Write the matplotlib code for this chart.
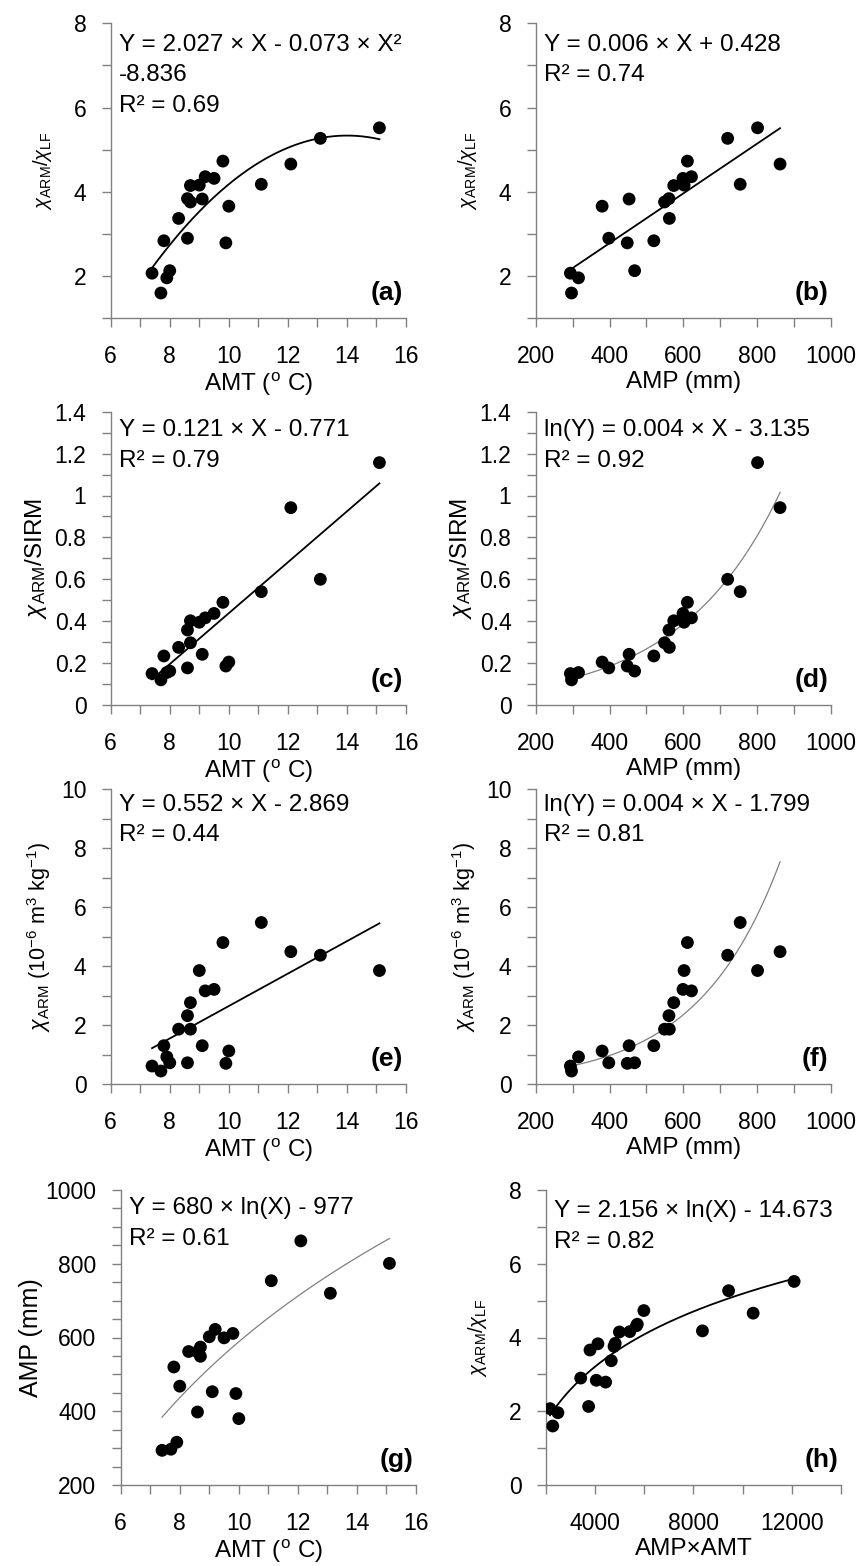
"""Eight-panel scatter of magnetic ratios against climate (AMT, AMP)."""

import matplotlib
matplotlib.use("Agg")
import matplotlib.pyplot as plt
import numpy as np
from matplotlib.ticker import MultipleLocator, FuncFormatter

plt.rcParams["font.family"] = ["Liberation Sans", "DejaVu Sans"]
plt.rcParams["mathtext.fontset"] = "custom"
plt.rcParams["mathtext.rm"] = "Liberation Sans"
plt.rcParams["mathtext.it"] = "Liberation Sans:italic"
plt.rcParams["mathtext.bf"] = "Liberation Sans:bold"

# one entry per site
amt = [7.4, 7.7, 7.8, 7.9, 8.0, 8.3, 8.6, 8.6, 8.7, 8.7, 9.0,
       9.1, 9.2, 9.5, 9.8, 9.9, 10.0, 11.1, 12.1, 13.1, 15.1]
amp = [294, 297, 520, 316, 468, 562, 398, 561, 549, 574, 602,
       453, 622, 599, 611, 448, 380, 754, 862, 720, 801]
arm_lf = [2.07, 1.60, 2.84, 1.96, 2.13, 3.37, 2.90, 3.84, 3.76, 4.15, 4.16,
          3.83, 4.36, 4.32, 4.73, 2.79, 3.66, 4.18, 4.66, 5.27, 5.52]
arm_sirm = [0.150, 0.120, 0.234, 0.155, 0.162, 0.275, 0.177, 0.358, 0.297, 0.402, 0.395,
            0.242, 0.416, 0.437, 0.490, 0.186, 0.205, 0.541, 0.942, 0.600, 1.157]
chi_arm = [0.61, 0.44, 1.30, 0.92, 0.72, 1.86, 0.72, 2.32, 1.86, 2.76, 3.85,
           1.30, 3.16, 3.21, 4.80, 0.70, 1.12, 5.48, 4.49, 4.37, 3.85]

amt = np.array(amt)
amp = np.array(amp)
prod = amt * amp

LAB_LF = r"$\chi_{\mathrm{ARM}}/\chi_{\mathrm{LF}}$"
LAB_SIRM = r"$\chi_{\mathrm{ARM}}$/SIRM"
LAB_ARM = r"$\chi_{\mathrm{ARM}}$ (10$^{-6}$ m$^{3}$ kg$^{-1}$)"
LAB_AMT = r"AMT ($^{\mathrm{o}}$ C)"
LAB_AMP = "AMP (mm)"

GREY = "#808080"
W = 861
H = 1566
EQ_SIZE = 17.5
XLAB_SIZE = 17.5


def fmt(v, _):
    return f"{v:g}"


def setup(ax, xlim, xmaj, xmin, ylim, ymaj, ymin):
    ax.set_xlim(*xlim)
    ax.set_ylim(*ylim)
    ax.xaxis.set_major_locator(MultipleLocator(xmaj))
    ax.xaxis.set_minor_locator(MultipleLocator(xmin))
    ax.yaxis.set_major_locator(MultipleLocator(ymaj))
    ax.yaxis.set_minor_locator(MultipleLocator(ymin))
    ax.xaxis.set_major_formatter(FuncFormatter(fmt))
    ax.yaxis.set_major_formatter(FuncFormatter(fmt))
    for s in ("top", "right"):
        ax.spines[s].set_visible(False)
    for s in ("left", "bottom"):
        ax.spines[s].set_color(GREY)
        ax.spines[s].set_linewidth(1.0)
    ax.tick_params(which="both", direction="out", length=6.5, width=1.0,
                   color=GREY, labelsize=16.5, labelcolor="black")
    ax.tick_params(axis="x", which="major", pad=13)
    ax.tick_params(axis="y", which="major", pad=11)


def panel(left, top, right, bottom):
    return fig.add_axes([left / W, 1 - bottom / H, (right - left) / W, (bottom - top) / H])


def fit_line(ax, x, y, kind, thin=False):
    xs = np.linspace(x.min(), x.max(), 200)
    if kind == "lin":
        c = np.polyfit(x, y, 1)
        ys = np.polyval(c, xs)
    elif kind == "quad":
        c = np.polyfit(x, y, 2)
        ys = np.polyval(c, xs)
    elif kind == "exp":
        c = np.polyfit(x, np.log(y), 1)
        ys = np.exp(np.polyval(c, xs))
    else:  # log
        c = np.polyfit(np.log(x), y, 1)
        ys = np.polyval(c, np.log(xs))
    if thin:
        ax.plot(xs, ys, color="#808080", lw=0.9, zorder=2)
    else:
        ax.plot(xs, ys, color="black", lw=1.3, zorder=2)


def dots(ax, x, y):
    ax.scatter(x, y, s=85, color="black", edgecolor="none", zorder=3)


def note(ax, lines, x0=0.028, y0=0.965, step=0.104):
    for i, t in enumerate(lines):
        ax.text(x0, y0 - i * step, t, transform=ax.transAxes, fontsize=EQ_SIZE,
                ha="left", va="top")


def tag(ax, t):
    ax.text(0.99, 0.045, t, transform=ax.transAxes, fontsize=19,
            fontweight="bold", ha="right", va="bottom")


fig = plt.figure(figsize=(W / 100, H / 100), dpi=100)

# (a)
ax = panel(110.7, 23.3, 406, 318.3)
setup(ax, (6, 16), 2, 1, (1, 8), 2, 1)
fit_line(ax, amt, np.array(arm_lf), "quad")
dots(ax, amt, arm_lf)
note(ax, ["Y = 2.027 \u00d7 X - 0.073 \u00d7 X\u00b2", "-8.836", "R\u00b2 = 0.69"])
tag(ax, "(a)")
ax.set_xlabel(LAB_AMT, fontsize=XLAB_SIZE, labelpad=2)
ax.set_ylabel(LAB_LF, fontsize=14.5, labelpad=14)

# (b)
ax = panel(535.7, 23.3, 831, 318.3)
setup(ax, (200, 1000), 200, 100, (1, 8), 2, 1)
fit_line(ax, amp, np.array(arm_lf), "lin")
dots(ax, amp, arm_lf)
note(ax, ["Y = 0.006 \u00d7 X + 0.428", "R\u00b2 = 0.74"])
tag(ax, "(b)")
ax.set_xlabel(LAB_AMP, fontsize=XLAB_SIZE, labelpad=2)
ax.set_ylabel(LAB_LF, fontsize=14.5, labelpad=14)

# (c)
ax = panel(110.7, 411.7, 406, 705)
setup(ax, (6, 16), 2, 1, (0, 1.4), 0.2, 0.1)
fit_line(ax, amt, np.array(arm_sirm), "lin")
dots(ax, amt, arm_sirm)
note(ax, ["Y = 0.121 \u00d7 X - 0.771", "R\u00b2 = 0.79"], y0=0.975)
tag(ax, "(c)")
ax.set_xlabel(LAB_AMT, fontsize=XLAB_SIZE, labelpad=2)
ax.set_ylabel(LAB_SIRM, fontsize=17.5, labelpad=4)

# (d)
ax = panel(535.7, 411.7, 831, 705)
setup(ax, (200, 1000), 200, 100, (0, 1.4), 0.2, 0.1)
fit_line(ax, amp, np.array(arm_sirm), "exp", thin=True)
dots(ax, amp, arm_sirm)
note(ax, ["ln(Y) = 0.004 \u00d7 X - 3.135", "R\u00b2 = 0.92"], y0=0.975)
tag(ax, "(d)")
ax.set_xlabel(LAB_AMP, fontsize=XLAB_SIZE, labelpad=2)
ax.set_ylabel(LAB_SIRM, fontsize=17.5, labelpad=4)

# (e)
ax = panel(110.7, 789.3, 406, 1084)
setup(ax, (6, 16), 2, 1, (0, 10), 2, 1)
fit_line(ax, amt, np.array(chi_arm), "lin")
dots(ax, amt, chi_arm)
note(ax, ["Y = 0.552 \u00d7 X - 2.869", "R\u00b2 = 0.44"], y0=0.985)
tag(ax, "(e)")
ax.set_xlabel(LAB_AMT, fontsize=XLAB_SIZE, labelpad=2)
ax.set_ylabel(LAB_ARM, fontsize=15.5, labelpad=6)

# (f)
ax = panel(535.7, 789.3, 831, 1084)
setup(ax, (200, 1000), 200, 100, (0, 10), 2, 1)
fit_line(ax, amp, np.array(chi_arm), "exp", thin=True)
dots(ax, amp, chi_arm)
note(ax, ["ln(Y) = 0.004 \u00d7 X - 1.799", "R\u00b2 = 0.81"], y0=0.985)
tag(ax, "(f)")
ax.set_xlabel(LAB_AMP, fontsize=XLAB_SIZE, labelpad=2)
ax.set_ylabel(LAB_ARM, fontsize=15.5, labelpad=6)

# (g)
ax = panel(120.7, 1190, 416, 1485)
setup(ax, (6, 16), 2, 1, (200, 1000), 200, 50)
fit_line(ax, amt, amp.astype(float), "log", thin=True)
dots(ax, amt, amp)
note(ax, ["Y = 680 \u00d7 ln(X) - 977", "R\u00b2 = 0.61"], y0=0.975)
tag(ax, "(g)")
ax.set_xlabel(LAB_AMT, fontsize=XLAB_SIZE, labelpad=2)
ax.set_ylabel(LAB_AMP, fontsize=18, labelpad=2)

# (h)
ax = panel(545.7, 1190, 841, 1485)
setup(ax, (2000, 14000), 4000, 2000, (0, 8), 2, 1)
ax.set_xticks([4000, 8000, 12000])
fit_line(ax, prod, np.array(arm_lf), "log")
dots(ax, prod, arm_lf)
note(ax, ["Y = 2.156 \u00d7 ln(X) - 14.673", "R\u00b2 = 0.82"], y0=0.965)
tag(ax, "(h)")
ax.set_xlabel("AMP\u00d7AMT", fontsize=XLAB_SIZE, labelpad=2)
ax.set_ylabel(LAB_LF, fontsize=14.5, labelpad=14)

fig.savefig("out.png", dpi=100, facecolor="white")
